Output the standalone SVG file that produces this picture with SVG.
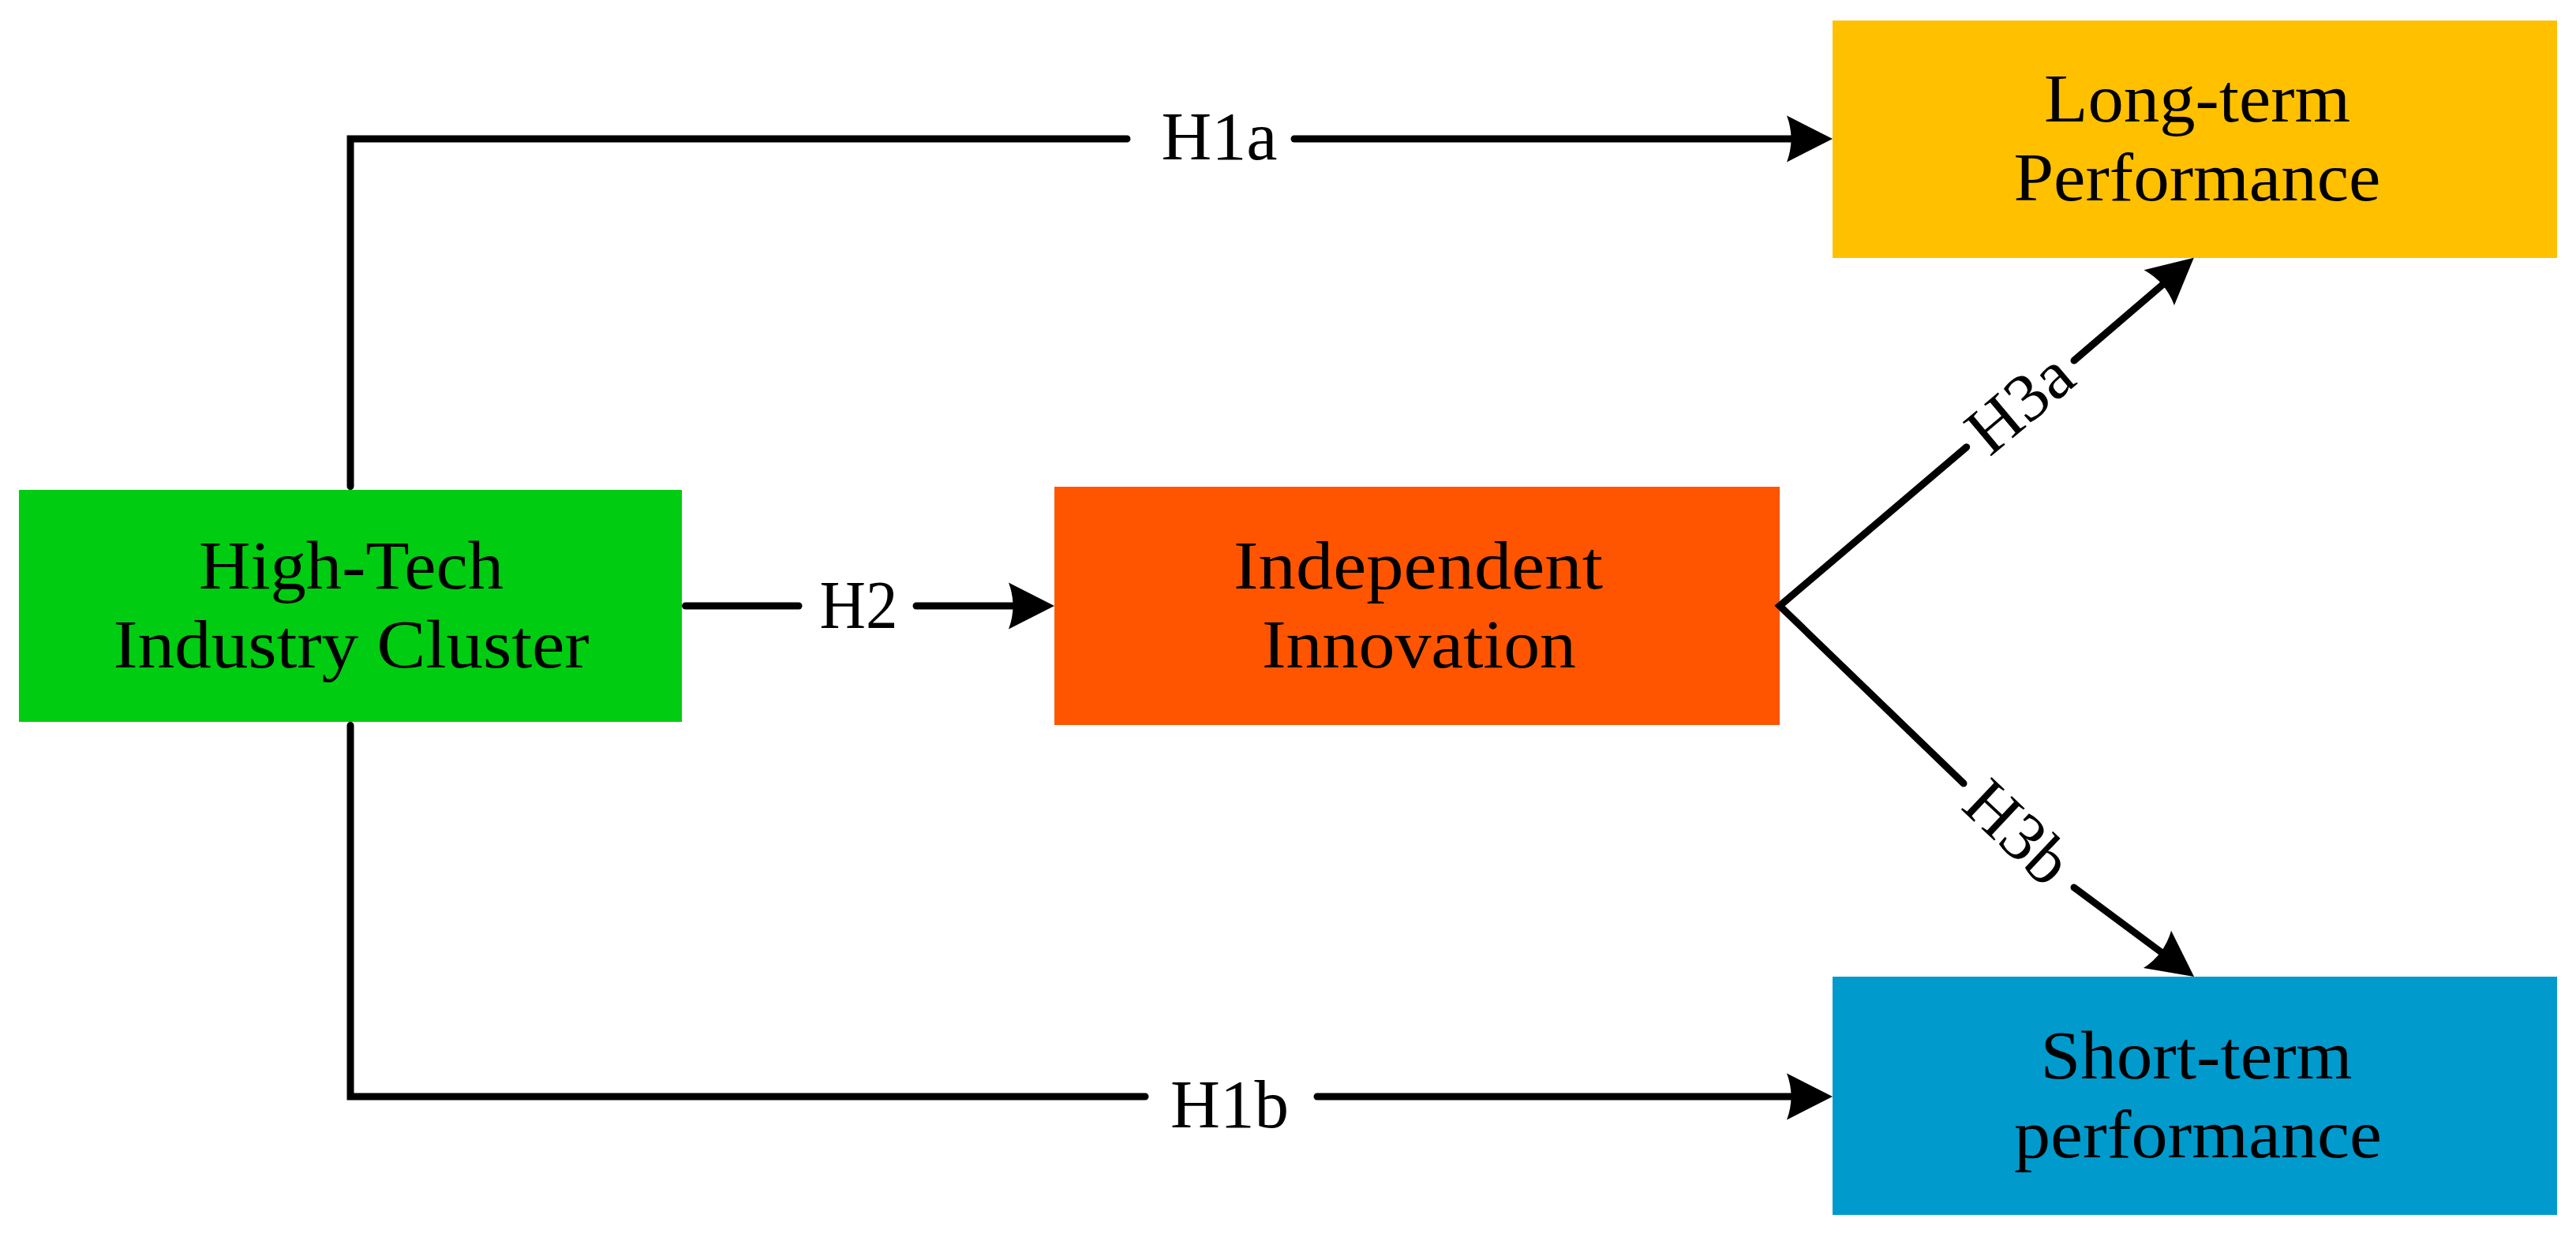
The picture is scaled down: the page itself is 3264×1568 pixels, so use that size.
<svg xmlns="http://www.w3.org/2000/svg" width="3264" height="1568" viewBox="0 0 3264 1568">
  <style>
    .box text, .lbl { font-family: "Liberation Serif", "Times New Roman", serif; font-size: 86px; fill: #000; text-anchor: middle; }
    .ln { fill: none; stroke: #000; stroke-width: 9; stroke-linecap: round; stroke-linejoin: miter; }
  </style>
  <defs>
    <marker id="arr" markerUnits="userSpaceOnUse" viewBox="-60 -31 62 62" markerWidth="62" markerHeight="62" refX="-20" refY="0" orient="auto" overflow="visible">
      <path d="M0,0 L-58,-29.5 Q-47,0 -58,29.5 Z" fill="#000"/>
    </marker>
  </defs>
  <rect width="3264" height="1568" fill="#fff"/>

  <g id="n-cluster" class="box">
    <rect x="24" y="621" width="840" height="294" fill="#00CC11"/>
    <text x="445" y="746" textLength="386" lengthAdjust="spacingAndGlyphs">High-Tech</text>
    <text x="445" y="846" textLength="603" lengthAdjust="spacingAndGlyphs">Industry Cluster</text>
  </g>
  <g id="n-innovation" class="box">
    <rect x="1336" y="617" width="919" height="302" fill="#FF5500"/>
    <text x="1797" y="746" textLength="468" lengthAdjust="spacingAndGlyphs">Independent</text>
    <text x="1798" y="846" textLength="398" lengthAdjust="spacingAndGlyphs">Innovation</text>
  </g>
  <g id="n-long" class="box">
    <rect x="2322" y="26" width="918" height="301" fill="#FFC000"/>
    <text x="2784" y="154" textLength="388" lengthAdjust="spacingAndGlyphs">Long-term</text>
    <text x="2784" y="254" textLength="465" lengthAdjust="spacingAndGlyphs">Performance</text>
  </g>
  <g id="n-short" class="box">
    <rect x="2322" y="1238" width="918" height="302" fill="#009ACD"/>
    <text x="2783" y="1367" textLength="395" lengthAdjust="spacingAndGlyphs">Short-term</text>
    <text x="2785" y="1467" textLength="466" lengthAdjust="spacingAndGlyphs">performance</text>
  </g>

  <g id="connectors">
    <path class="ln" d="M444,616.5 V176 H1428"/>
    <path class="ln" d="M1640,176 H2302" marker-end="url(#arr)"/>
    <text class="lbl" x="1545" y="202" textLength="147" lengthAdjust="spacingAndGlyphs">H1a</text>

    <path class="ln" d="M444,919.5 V1390 H1451"/>
    <path class="ln" d="M1669,1390 H2302" marker-end="url(#arr)"/>
    <text class="lbl" x="1558" y="1429" textLength="150" lengthAdjust="spacingAndGlyphs">H1b</text>

    <path class="ln" d="M868.5,768 H1012"/>
    <path class="ln" d="M1161,768 H1316" marker-end="url(#arr)"/>
    <text class="lbl" x="1088" y="796" textLength="99" lengthAdjust="spacingAndGlyphs">H2</text>

    <path class="ln" d="M2491.7,566.7 L2255,768 L2488,993"/>
    <path class="ln" d="M2628,457 L2764.6,339.8" marker-end="url(#arr)"/>
    <text class="lbl" transform="translate(2560,512) rotate(-40)" x="0" y="27" textLength="147" lengthAdjust="spacingAndGlyphs">H3a</text>

    <path class="ln" d="M2628,1125 L2764,1226" marker-end="url(#arr)"/>
    <text class="lbl" transform="translate(2556,1056) rotate(43.3)" x="0" y="27" textLength="150" lengthAdjust="spacingAndGlyphs">H3b</text>
  </g>
</svg>
